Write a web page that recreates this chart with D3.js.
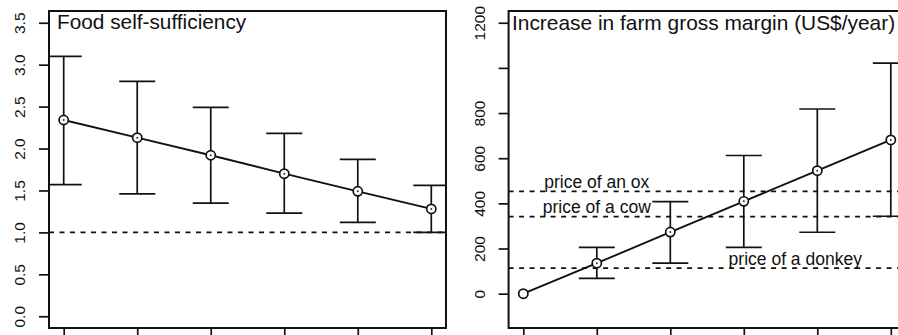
<!DOCTYPE html>
<html>
<head>
<meta charset="utf-8">
<script src="https://cdn.jsdelivr.net/npm/d3@7"></script>
<style>
  body { margin: 0; background: #fff; }
  svg { display: block; }
  text { font-family: "Liberation Sans", Arial, sans-serif; fill: #111; }
</style>
</head>
<body>
<svg width="898" height="335"></svg>
<script>
// scenario index 1..6
const xs = [1, 2, 3, 4, 5, 6];

// left panel: food self-sufficiency
const foodMean  = [2.34, 2.13, 1.92, 1.70, 1.49, 1.28];
const foodUpper = [3.10, 2.80, 2.49, 2.18, 1.87, 1.56];
const foodLower = [1.57, 1.46, 1.35, 1.23, 1.12, 1.00];
const foodTicks = [0, 0.5, 1, 1.5, 2, 2.5, 3, 3.5];
const foodRefLine = [1.0];

// right panel: increase in farm gross margin
const marginMean  = [0, 135, 273, 409, 545, 681];
const marginUpper = [null, 205, 408, 612, 818, 1021];
const marginLower = [null, 68, 135, 205, 272, 343];
const marginTicks = [0, 200, 400, 600, 800, 1000, 1200];
const marginTickLabels = ["0", "200", "400", "600", "800", "", "1200"];

const priceLabels = ["price of an ox", "price of a cow", "price of a donkey"];
const priceValues = [453, 341, 113];
const priceLabelX = [2, 2, 4.7];

const svg = d3.select("svg");

function panel(opts) {
    const { left, right, top, bottom, xDomain, yDomain, clipId } = opts;
    const x = d3.scaleLinear().domain(xDomain).range([left, right]);
    const y = d3.scaleLinear().domain(yDomain).range([bottom, top]);

    svg.append("clipPath").attr("id", clipId)
        .append("rect")
        .attr("x", left).attr("y", top)
        .attr("width", right - left).attr("height", bottom - top);

    // y axis
    const yAxis = d3.axisLeft(y)
        .tickValues(opts.yTicks)
        .tickSize(10)
        .tickFormat((d, i) => opts.yLabels[i]);
    const ga = svg.append("g").attr("transform", `translate(${left},0)`).call(yAxis);
    ga.select(".domain").remove();
    ga.selectAll("line").attr("stroke", "#111").attr("stroke-width", 1.7);
    ga.selectAll("text")
        .attr("x", 0).attr("dy", 0)
        .attr("text-anchor", "middle")
        .attr("font-size", 15.5)
        .attr("transform", "translate(-24,0) rotate(-90)");

    // x axis ticks (no labels)
    const xAxis = d3.axisBottom(x).tickValues(xs).tickSize(9).tickFormat("");
    const gx = svg.append("g").attr("transform", `translate(0,${bottom})`).call(xAxis);
    gx.select(".domain").remove();
    gx.selectAll("line").attr("stroke", "#111").attr("stroke-width", 1.7);

    const plot = svg.append("g").attr("clip-path", `url(#${clipId})`);
    return { x, y, plot };
}

function drawSeries(p, mean, upper, lower) {
    const { x, y, plot } = p;
    const cap = 18;
    const bars = xs.map((d, i) => ({ x: d, m: mean[i], u: upper[i], l: lower[i] }))
        .filter(d => d.u != null);

    const eb = plot.append("g").attr("stroke", "#111").attr("stroke-width", 1.7);
    eb.selectAll(".v").data(bars).join("line")
        .attr("x1", d => x(d.x)).attr("x2", d => x(d.x))
        .attr("y1", d => y(d.u)).attr("y2", d => y(d.l));
    eb.selectAll(".cu").data(bars).join("line")
        .attr("x1", d => x(d.x) - cap).attr("x2", d => x(d.x) + cap)
        .attr("y1", d => y(d.u)).attr("y2", d => y(d.u));
    eb.selectAll(".cl").data(bars).join("line")
        .attr("x1", d => x(d.x) - cap).attr("x2", d => x(d.x) + cap)
        .attr("y1", d => y(d.l)).attr("y2", d => y(d.l));

    const line = d3.line()
        .x((d, i) => x(xs[i]))
        .y(d => y(d));
    plot.append("path")
        .attr("d", line(mean))
        .attr("fill", "none")
        .attr("stroke", "#111")
        .attr("stroke-width", 1.9);

    const pts = xs.map((d, i) => ({ x: d, m: mean[i], bar: upper[i] != null }));
    svg.append("g").selectAll("circle").data(pts).join("circle")
        .attr("cx", d => x(d.x)).attr("cy", d => y(d.m))
        .attr("r", 4.6)
        .attr("fill", "#fff")
        .attr("stroke", "#111")
        .attr("stroke-width", 1.7);
    svg.append("g").selectAll("circle").data(pts.filter(d => d.bar)).join("circle")
        .attr("cx", d => x(d.x)).attr("cy", d => y(d.m))
        .attr("r", 1)
        .attr("fill", "#333");
}

function hline(p, v) {
    p.plot.append("line")
        .attr("x1", p.x.range()[0]).attr("x2", p.x.range()[1])
        .attr("y1", p.y(v)).attr("y2", p.y(v))
        .attr("stroke", "#111")
        .attr("stroke-width", 1.7)
        .attr("stroke-dasharray", "5,5.5");
}

function box(left, right, top, bottom) {
    svg.append("rect")
        .attr("x", left).attr("y", top)
        .attr("width", right - left).attr("height", bottom - top)
        .attr("fill", "none")
        .attr("stroke", "#111")
        .attr("stroke-width", 2);
}

// ---- left panel
const pL = panel({
    left: 49, right: 446, top: 11, bottom: 328,
    xDomain: [0.8, 6.2], yDomain: [-0.14, 3.64],
    yTicks: foodTicks, yLabels: foodTicks.map(d => d.toFixed(1)),
    clipId: "clipL"
});
foodRefLine.forEach(v => hline(pL, v));
drawSeries(pL, foodMean, foodUpper, foodLower);
box(49, 446, 11, 328);
svg.append("text")
    .attr("x", 57).attr("y", 28.5)
    .attr("font-size", 20.8)
    .text("Food self-sufficiency");

// ---- right panel
const pR = panel({
    left: 508.6, right: 905.5, top: 11, bottom: 328,
    xDomain: [0.8, 6.2], yDomain: [-152, 1252],
    yTicks: marginTicks, yLabels: marginTickLabels,
    clipId: "clipR"
});
priceValues.forEach(v => hline(pR, v));
drawSeries(pR, marginMean, marginUpper, marginLower);
box(508.6, 905.5, 11, 328);
svg.append("text")
    .attr("x", 512).attr("y", 29.5)
    .attr("font-size", 20.9)
    .text("Increase in farm gross margin (US$/year)");
svg.append("g").selectAll("text").data(priceLabels).join("text")
    .attr("x", (d, i) => pR.x(priceLabelX[i]))
    .attr("y", (d, i) => pR.y(priceValues[i]) - 3.5)
    .attr("text-anchor", "middle")
    .attr("font-size", 17.5)
    .text(d => d);
</script>
</body>
</html>
